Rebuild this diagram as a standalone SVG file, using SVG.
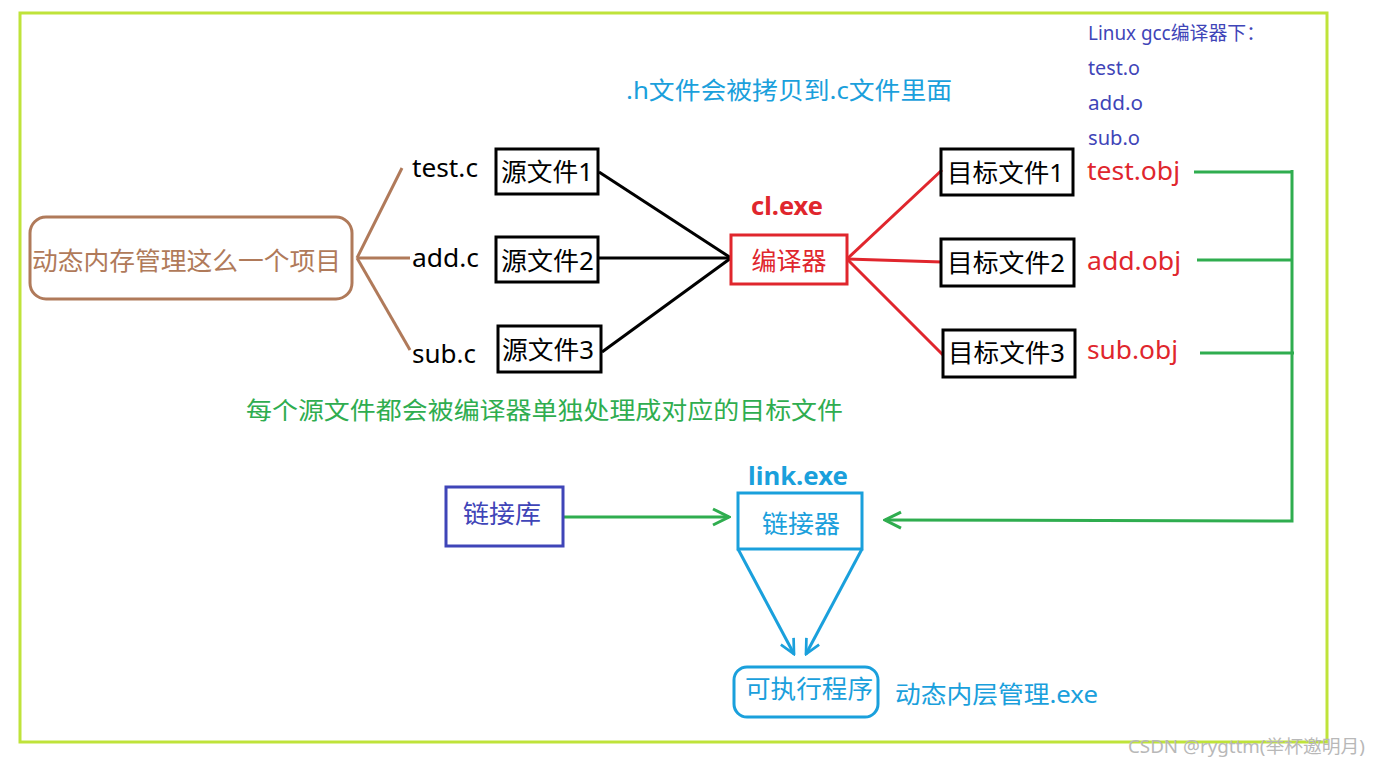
<svg xmlns="http://www.w3.org/2000/svg" width="1378" height="766" viewBox="0 0 1378 766">
<style>
text{font-family:"Noto Sans","Noto Sans CJK SC",sans-serif}
.k{fill:#000;font-size:25px}
.box{fill:none;stroke:#000;stroke-width:3}
.cn{font-size:25px}
.red{fill:#e0262d}
.cy{fill:#1aa0dc}
.bl{fill:#3f45b8}
.gr{fill:#2fad4f}
</style>
<defs>
<marker id="ag" viewBox="0 0 20 20" refX="18" refY="10" markerWidth="20" markerHeight="20" markerUnits="userSpaceOnUse" orient="auto">
<path d="M2,2 L18,10 L2,18" fill="none" stroke="#2fad4f" stroke-width="3"/>
</marker>
<marker id="ac" viewBox="0 0 20 20" refX="18" refY="10" markerWidth="18" markerHeight="18" markerUnits="userSpaceOnUse" orient="auto">
<path d="M2,2 L18,10 L2,18" fill="none" stroke="#1aa0dc" stroke-width="3"/>
</marker>
</defs>
<rect width="1378" height="766" fill="#fff"/>
<rect x="20" y="13" width="1307" height="729" fill="none" stroke="#bfe33a" stroke-width="3"/>

<g id="connectors">
<g stroke="#b07a5a" stroke-width="3" fill="none">
<path d="M357,258 L402,168"/>
<path d="M357,258 L410,258"/>
<path d="M357,258 L410,350"/>
</g>
<g stroke="#000" stroke-width="3" fill="none">
<path d="M599,172 L731,258"/>
<path d="M599,258 L731,258"/>
<path d="M602,352 L731,258"/>
</g>
<g stroke="#e0262d" stroke-width="3" fill="none">
<path d="M847,259 L942,170"/>
<path d="M847,259 L942,262"/>
<path d="M847,259 L943,355"/>
</g>
<g stroke="#2fad4f" stroke-width="3" fill="none">
<path d="M1194,172 L1292,172"/>
<path d="M1197,260 L1292,260"/>
<path d="M1200,353 L1294,353"/>
<path d="M1292,170 L1292,521 L885,520" marker-end="url(#ag)"/>
<path d="M564,517 L729,517" marker-end="url(#ag)"/>
</g>
<g stroke="#1aa0dc" stroke-width="3" fill="none">
<path d="M738,549 L794,654" marker-end="url(#ac)"/>
<path d="M862,549 L806,654" marker-end="url(#ac)"/>
</g>
</g>

<g id="project">
<rect x="30" y="217" width="322" height="82" rx="16" fill="none" stroke="#b07a5a" stroke-width="3"/>
<text x="32" y="270" font-size="25.5" fill="#b07a5a" textLength="309" lengthAdjust="spacingAndGlyphs">动态内存管理这么一个项目</text>
</g>
<g id="files">
<text x="412" y="177" class="k" textLength="66" lengthAdjust="spacingAndGlyphs">test.c</text>
<text x="412" y="267" class="k" textLength="67" lengthAdjust="spacingAndGlyphs">add.c</text>
<text x="412" y="363" class="k" textLength="64" lengthAdjust="spacingAndGlyphs">sub.c</text>
</g>
<g id="src1"><rect x="496" y="149" width="102" height="45" class="box"/><text x="501" y="181" class="k cn" textLength="92" lengthAdjust="spacingAndGlyphs">源文件1</text></g>
<g id="src2"><rect x="496" y="237" width="102" height="45" class="box"/><text x="501" y="270" class="k cn" textLength="93" lengthAdjust="spacingAndGlyphs">源文件2</text></g>
<g id="src3"><rect x="498" y="326" width="103" height="46" class="box"/><text x="502" y="359" class="k cn" textLength="92" lengthAdjust="spacingAndGlyphs">源文件3</text></g>

<g id="compiler">
<text x="751" y="215" font-size="25" font-weight="bold" class="red" textLength="72" lengthAdjust="spacingAndGlyphs">cl.exe</text>
<rect x="731" y="235" width="116" height="49" fill="none" stroke="#e0262d" stroke-width="3"/>
<text x="789" y="270" font-size="25" class="red" text-anchor="middle">编译器</text>
</g>

<g id="obj1"><rect x="941" y="149" width="132" height="46" class="box"/><text x="947" y="182" class="k cn" textLength="117" lengthAdjust="spacingAndGlyphs">目标文件1</text></g>
<g id="obj2"><rect x="941" y="239" width="133" height="47" class="box"/><text x="947" y="272" class="k cn" textLength="118" lengthAdjust="spacingAndGlyphs">目标文件2</text></g>
<g id="obj3"><rect x="943" y="330" width="132" height="47" class="box"/><text x="948" y="362" class="k cn" textLength="117" lengthAdjust="spacingAndGlyphs">目标文件3</text></g>

<g id="objnames">
<text x="1087" y="180" font-size="26" class="red" textLength="93" lengthAdjust="spacingAndGlyphs">test.obj</text>
<text x="1087" y="270" font-size="26" class="red" textLength="94" lengthAdjust="spacingAndGlyphs">add.obj</text>
<text x="1087" y="359" font-size="26" class="red" textLength="91" lengthAdjust="spacingAndGlyphs">sub.obj</text>
</g>

<g id="linux">
<text x="1088" y="40" font-size="19" class="bl" textLength="177" lengthAdjust="spacingAndGlyphs">Linux gcc编译器下：</text>
<text x="1088" y="75" font-size="19" class="bl" textLength="52" lengthAdjust="spacingAndGlyphs">test.o</text>
<text x="1088" y="110" font-size="19" class="bl" textLength="55" lengthAdjust="spacingAndGlyphs">add.o</text>
<text x="1088" y="145" font-size="19" class="bl" textLength="52" lengthAdjust="spacingAndGlyphs">sub.o</text>
</g>

<text id="note1" x="626" y="99" font-size="24" class="cy" textLength="326" lengthAdjust="spacingAndGlyphs">.h文件会被拷贝到.c文件里面</text>
<text id="note2" x="246" y="419" font-size="24" class="gr" textLength="597" lengthAdjust="spacingAndGlyphs">每个源文件都会被编译器单独处理成对应的目标文件</text>

<g id="lib">
<rect x="446" y="487" width="117" height="59" fill="none" stroke="#3f45b8" stroke-width="3"/>
<text x="463" y="523" font-size="25" class="bl" textLength="78" lengthAdjust="spacingAndGlyphs">链接库</text>
</g>

<g id="linker">
<text x="748" y="485" font-size="25" font-weight="bold" class="cy" textLength="100" lengthAdjust="spacingAndGlyphs">link.exe</text>
<rect x="738" y="493" width="124" height="56" fill="none" stroke="#1aa0dc" stroke-width="3"/>
<text x="762" y="533" font-size="25" class="cy" textLength="78" lengthAdjust="spacingAndGlyphs">链接器</text>
</g>

<g id="exe">
<rect x="734" y="667" width="144" height="50" rx="13" fill="none" stroke="#1aa0dc" stroke-width="3"/>
<text x="745" y="698" font-size="25" class="cy" textLength="128" lengthAdjust="spacingAndGlyphs">可执行程序</text>
</g>
<text id="exename" x="895" y="703" font-size="24" class="cy" textLength="203" lengthAdjust="spacingAndGlyphs">动态内层管理.exe</text>

<text x="1128" y="753" font-size="18" fill="#b8b8b8" textLength="237" lengthAdjust="spacingAndGlyphs">CSDN @rygttm(举杯邀明月)</text>
</svg>
